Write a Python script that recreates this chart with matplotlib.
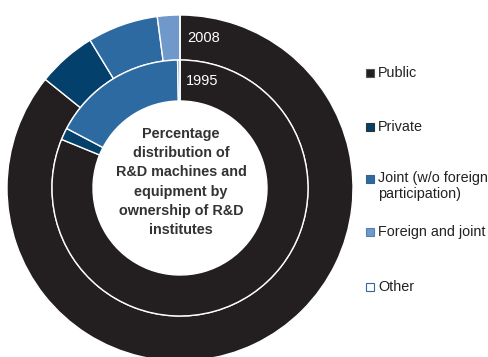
import matplotlib.pyplot as plt
from matplotlib.patches import Rectangle

plt.rcParams['font.family'] = ['Liberation Sans', 'DejaVu Sans']

# ownership shares (%), clockwise from 12 o'clock
categories = ['Public', 'Private', 'Joint (w/o foreign\nparticipation)', 'Foreign and joint', 'Other']
share_2008 = [85.8, 5.5, 6.6, 2.1, 0.0]
share_1995 = [81.2, 1.5, 17.0, 0.3, 0.0]
colors = ['#231F20', '#04406C', '#2E6AA2', '#7198CA', '#FFFFFF']
marker_edges = ['#555555', '#333333', '#3A5F8A', '#5A7FAF', '#2E6AA2']

W, H = 489, 357
fig = plt.figure(figsize=(W / 100, H / 100), dpi=100)

# pie axes: centre at (180, 188) px, outer radius 173 px
R = 173
cx, cy = 180, H - 188
ax = fig.add_axes([(cx - R) / W, (cy - R) / H, 2 * R / W, 2 * R / H])

wedge_style = dict(edgecolor='white', linewidth=1.0)
ax.pie(share_2008, colors=colors, startangle=90, counterclock=False,
       radius=1.0, wedgeprops=dict(width=45 / R, **wedge_style))
ax.pie(share_1995, colors=colors, startangle=90, counterclock=False,
       radius=128 / R, wedgeprops=dict(width=41 / R, **wedge_style))
ax.set_xlim(-1, 1)
ax.set_ylim(-1, 1)
ax.set_aspect('equal')
ax.axis('off')

def px(x, y):
    return (x - 180) / R, (188 - y) / R

ax.text(*px(187, 38), '2008', color='white', fontsize=10.5, ha='left', va='center')
ax.text(*px(186, 81), '1995', color='white', fontsize=10.5, ha='left', va='center')

ax.text(*px(181, 182),
        'Percentage\ndistribution of\nR&D machines and\nequipment by\nownership of R&D\ninstitutes',
        ha='center', va='center', fontsize=10.4, fontweight='bold', color='#333333',
        linespacing=1.46)

# legend drawn by hand: evenly spaced square markers
legend_y = [73, 127, 179, 232, 287]
for label, c, ec, y in zip(categories, colors, marker_edges, legend_y):
    fig.patches.append(Rectangle((366 / W, (H - y - 4) / H), 8 / W, 8 / H,
                                 transform=fig.transFigure, facecolor=c,
                                 edgecolor=ec, linewidth=0.8))
    if '\n' in label:
        fig.text(378 / W, (H - y + 8) / H, label, fontsize=10.4, color='#222222',
                 ha='left', va='top', linespacing=1.2)
    else:
        fig.text(378 / W, (H - y) / H, label, fontsize=10.4, color='#222222',
                 ha='left', va='center')

fig.savefig('out.png', dpi=100, facecolor='white')
